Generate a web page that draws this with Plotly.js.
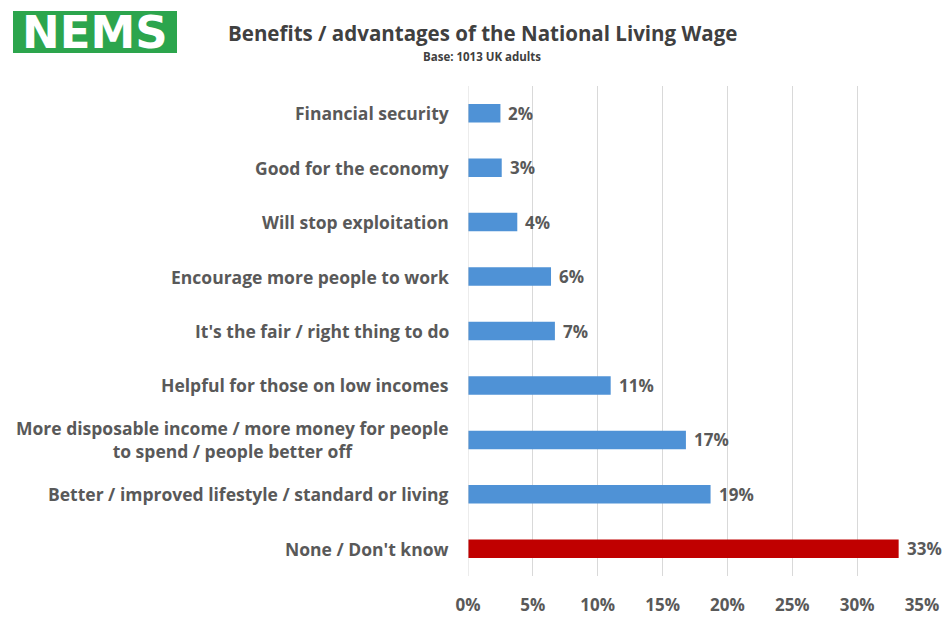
<!DOCTYPE html>
<html>
<head>
<meta charset="utf-8">
<script src="https://cdn.plot.ly/plotly-3.0.1.min.js"></script>
<style>
  html, body { margin: 0; padding: 0; background: #ffffff; }
  #chart { width: 947px; height: 623px; }
</style>
</head>
<body>
<div id="chart"></div>
<script>
// Categories, top to bottom as shown
const categories = [
  "Financial security",
  "Good for the economy",
  "Will stop exploitation",
  "Encourage more people to work",
  "It's the fair / right thing to do",
  "Helpful for those on low incomes",
  "More disposable income / more money for people<br>to spend / people better off",
  "Better / improved lifestyle / standard or living",
  "None / Don't know"
];
// Bar lengths (percent)
const values = [2.5, 2.6, 3.8, 6.4, 6.7, 11.0, 16.8, 18.7, 33.2];
// Data labels as printed on the chart
const valueLabels = ["2%", "3%", "4%", "6%", "7%", "11%", "17%", "19%", "33%"];
const barColors = ["#4f92d6", "#4f92d6", "#4f92d6", "#4f92d6", "#4f92d6", "#4f92d6", "#4f92d6", "#4f92d6", "#c00000"];
const xTickVals = [0, 5, 10, 15, 20, 25, 30, 35];
const xTickText = ["0%", "5%", "10%", "15%", "20%", "25%", "30%", "35%"];

const FONT = "'Open Sans', Lato, sans-serif";

const trace = {
  type: "bar",
  orientation: "h",
  y: categories,
  x: values,
  marker: { color: barColors },
  hoverinfo: "skip"
};

const catAnnotations = categories.map(c => ({
  text: "<b>" + c + "</b>",
  x: 0, xref: "paper", xanchor: "right", xshift: -17,
  y: c, yref: "y", yanchor: "middle",
  align: "center",
  showarrow: false,
  font: { family: FONT, size: 17.5, color: "#595959" }
}));

const valueAnnotations = categories.map((c, i) => ({
  text: "<b>" + valueLabels[i] + "</b>",
  x: values[i], xref: "x", xanchor: "left", xshift: 6,
  y: c, yref: "y", yanchor: "middle",
  showarrow: false,
  font: { family: FONT, size: 17, color: "#595959" }
}));

const layout = {
  width: 947, height: 623,
  margin: { l: 468, r: 25, t: 86, b: 47 },
  paper_bgcolor: "#ffffff",
  plot_bgcolor: "#ffffff",
  showlegend: false,
  bargap: 0.66,
  xaxis: {
    range: [0, 35],
    tickvals: xTickVals,
    ticktext: xTickText,
    showgrid: true,
    gridcolor: "#d9d9d9",
    gridwidth: 1,
    zeroline: false,
    showline: false,
    ticks: "",
    ticklabelstandoff: 17,
    tickfont: { family: FONT, size: 17, color: "#595959", weight: 700 },
    fixedrange: true
  },
  yaxis: {
    type: "category",
    autorange: "reversed",
    showticklabels: false,
    showgrid: false,
    zeroline: false,
    showline: false,
    ticks: "",
    fixedrange: true
  },
  shapes: [
    { type: "line", xref: "x", yref: "paper", x0: 0, x1: 0, y0: 0, y1: 1,
      line: { color: "#d9d9d9", width: 1 } },
    { type: "rect", xref: "paper", yref: "paper", layer: "above",
      x0: 0, x1: 0, y0: 0, y1: 0,
      fillcolor: "#2ca54d", line: { width: 0 } }
  ],
  annotations: [
    {
      text: "<b>Benefits / advantages of the National Living Wage</b>",
      xref: "paper", yref: "paper", x: 0, y: 0,
      xanchor: "center", yanchor: "middle", showarrow: false,
      font: { family: FONT, size: 20.5, color: "#404040" }
    },
    {
      text: "<b>Base: 1013 UK adults</b>",
      xref: "paper", yref: "paper", x: 0, y: 0,
      xanchor: "center", yanchor: "middle", showarrow: false,
      font: { family: FONT, size: 11.5, color: "#404040" }
    },
    {
      text: "<b>NEMS</b>",
      xref: "paper", yref: "paper", x: 0, y: 0,
      xanchor: "center", yanchor: "middle", showarrow: false,
      font: { family: "'DejaVu Sans', sans-serif", size: 45, color: "#ffffff" }
    }
  ].concat(catAnnotations, valueAnnotations)
};

// Position header items in pixels relative to the paper
(function placeHeader() {
  const H = 623, t = 86, b = 47, plotH = H - t - b;
  const W = 947, l = 468, r = 25, plotW = W - l - r;
  const px = x => (x - l) / plotW;
  const py = y => (H - b - y) / plotH;
  layout.annotations[0].x = px(482); layout.annotations[0].y = py(33);
  layout.annotations[1].x = px(482); layout.annotations[1].y = py(57);
  layout.annotations[2].x = px(95);  layout.annotations[2].y = py(32);
  layout.shapes[1].x0 = px(13); layout.shapes[1].x1 = px(177);
  layout.shapes[1].y0 = py(53); layout.shapes[1].y1 = py(11);
})();

Plotly.newPlot("chart", [trace], layout, { displayModeBar: false, staticPlot: true });
</script>
</body>
</html>
